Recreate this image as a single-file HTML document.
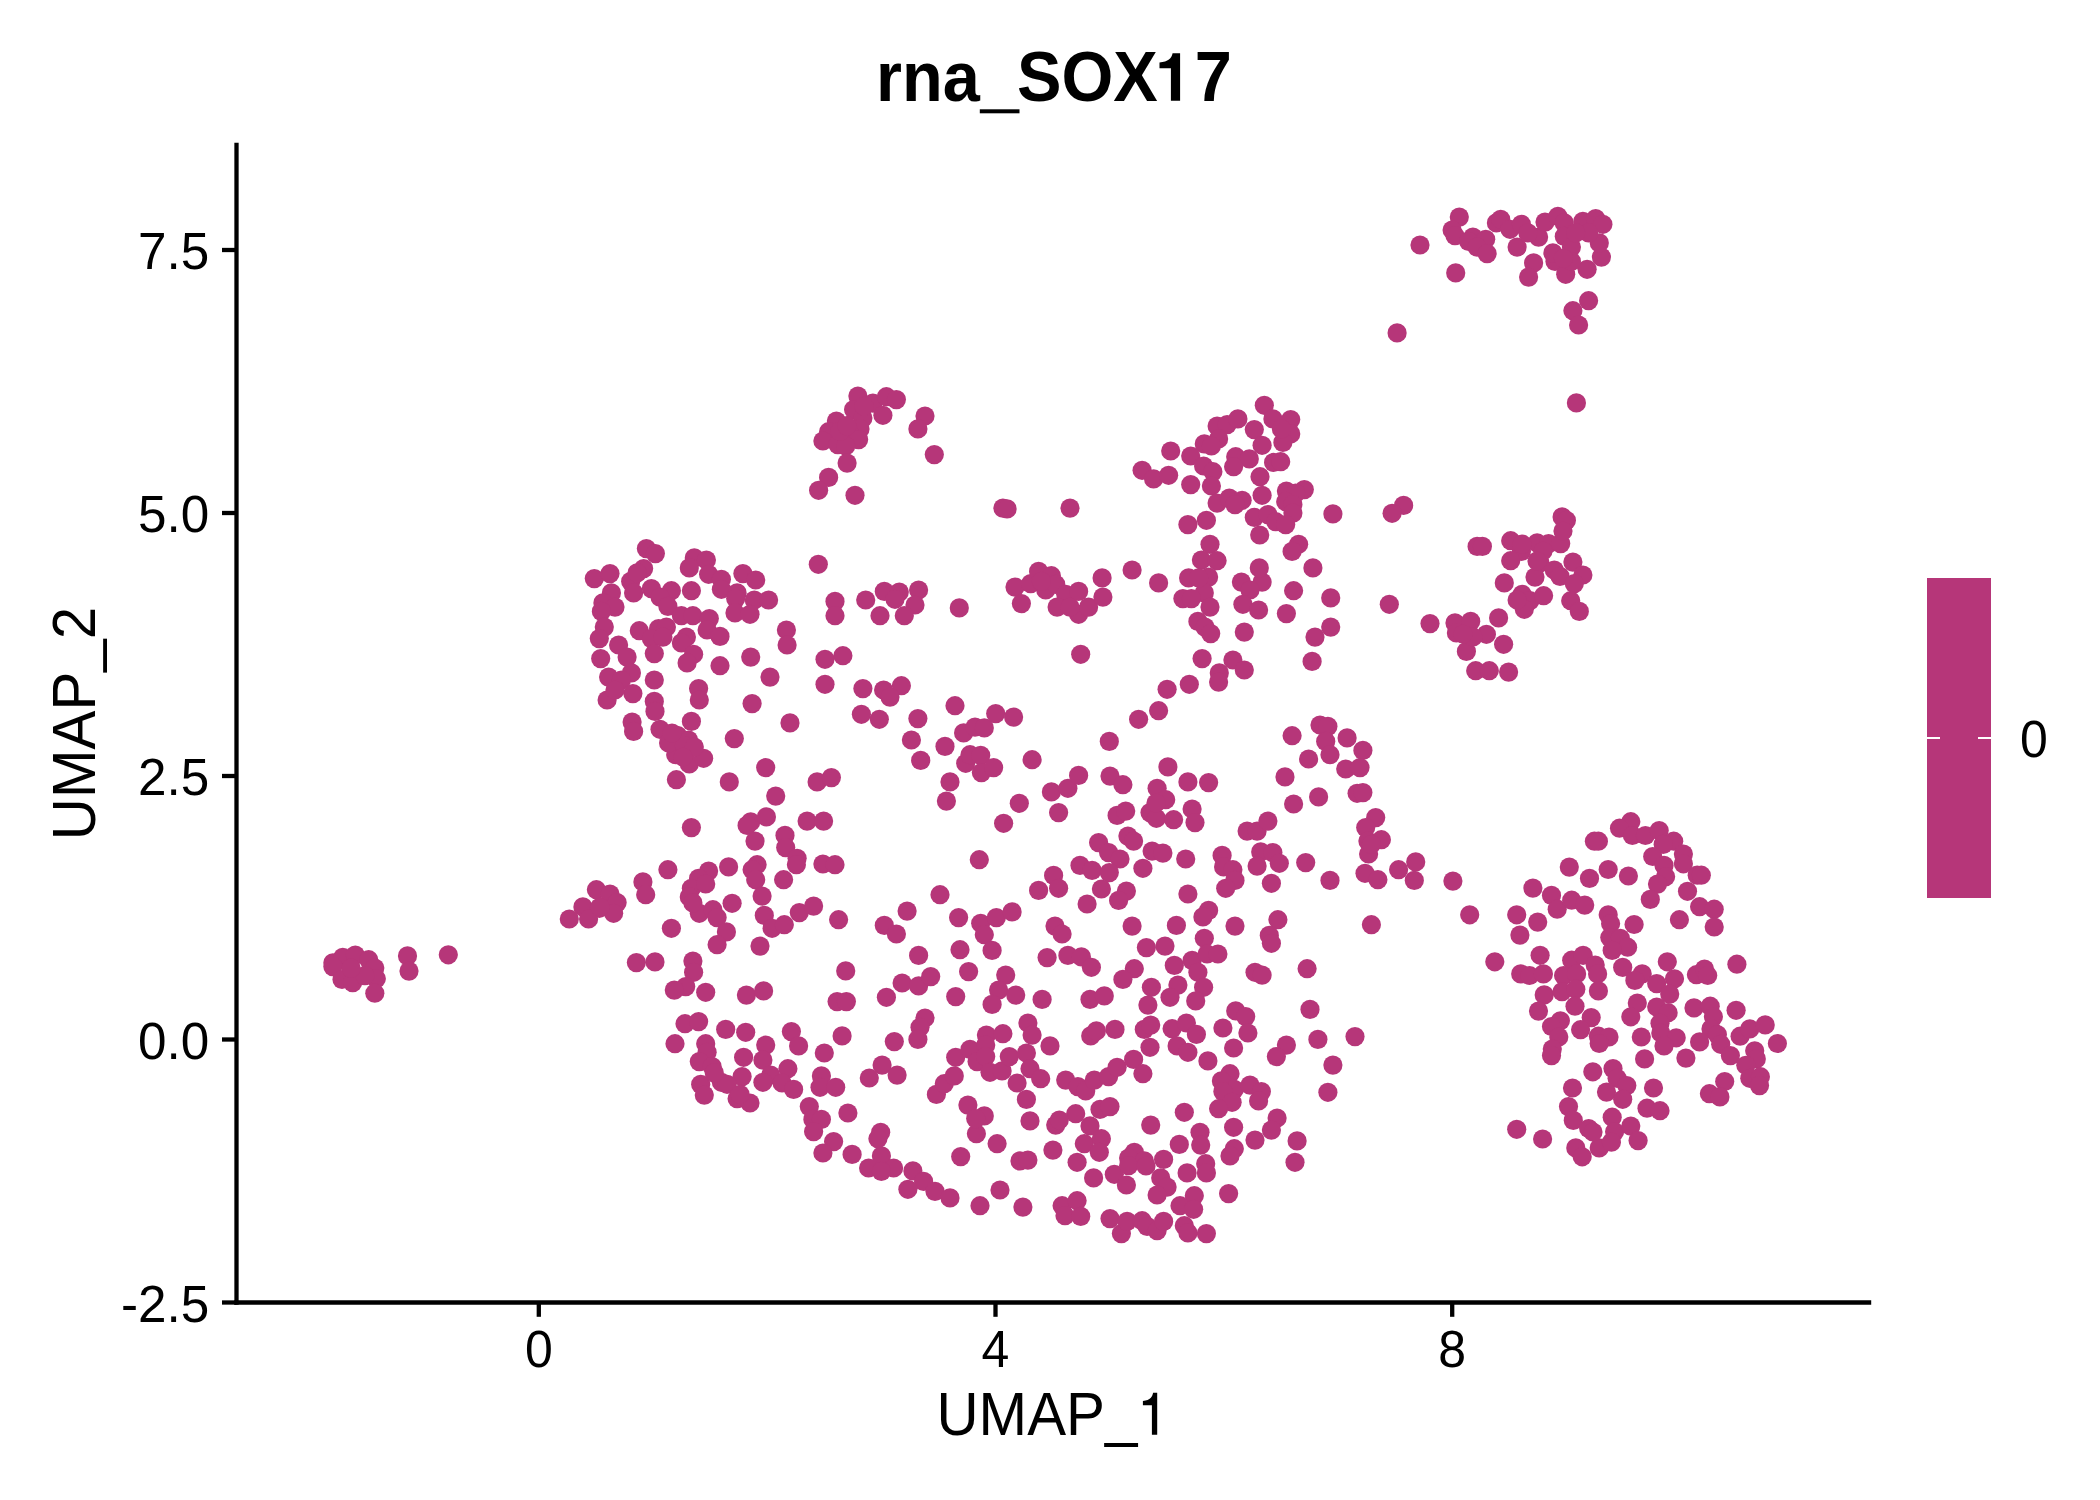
<!DOCTYPE html>
<html><head><meta charset="utf-8"><style>
html,body{margin:0;padding:0;background:#fff;width:2100px;height:1500px;overflow:hidden}
svg{display:block}
text{font-family:"Liberation Sans", sans-serif;fill:#000}
</style></head><body>
<svg width="2100" height="1500" viewBox="0 0 2100 1500">
<rect width="2100" height="1500" fill="#fff"/>
<text transform="translate(1054,101) scale(1,1.0436)" font-size="66.7" font-weight="bold" text-anchor="middle">rna_SOX17</text>
<rect x="976" y="103.5" width="48" height="8" fill="#fff"/><rect x="979.8" y="109.3" width="39.7" height="4" fill="#000"/>
<rect x="1158" y="49" width="38.5" height="54" fill="#fff"/><path d="M1170.9,100.8 L1180.1,100.8 L1180.1,53.3 L1172.6,53.3 C1171.6,58.3 1168.2,61.9 1159.5,62.4 L1159.5,68.3 L1170.9,68.3 Z" fill="#000"/>
<g fill="#B63679"><circle cx="646.4" cy="548.6" r="9.6"/><circle cx="655.4" cy="553.6" r="9.6"/><circle cx="694.3" cy="557.9" r="9.6"/><circle cx="706.4" cy="560" r="9.6"/><circle cx="818.3" cy="564.3" r="9.6"/><circle cx="643.6" cy="568.6" r="9.6"/><circle cx="630.7" cy="581.4" r="9.6"/><circle cx="633.6" cy="592.9" r="9.6"/><circle cx="594.3" cy="578.6" r="9.6"/><circle cx="610" cy="573.6" r="9.6"/><circle cx="689.3" cy="567.9" r="9.6"/><circle cx="708.6" cy="574.3" r="9.6"/><circle cx="721.4" cy="579.3" r="9.6"/><circle cx="742.9" cy="573.6" r="9.6"/><circle cx="755.7" cy="580" r="9.6"/><circle cx="611.4" cy="592.9" r="9.6"/><circle cx="651.4" cy="588.6" r="9.6"/><circle cx="671.4" cy="590.7" r="9.6"/><circle cx="691.4" cy="590.7" r="9.6"/><circle cx="721.4" cy="589.3" r="9.6"/><circle cx="737.1" cy="592.9" r="9.6"/><circle cx="754.3" cy="600" r="9.6"/><circle cx="768.6" cy="600" r="9.6"/><circle cx="835" cy="601.4" r="9.6"/><circle cx="660" cy="597.1" r="9.6"/><circle cx="735.7" cy="598.6" r="9.6"/><circle cx="602.9" cy="602.9" r="9.6"/><circle cx="615" cy="607.1" r="9.6"/><circle cx="601.4" cy="611.4" r="9.6"/><circle cx="667.9" cy="606.4" r="9.6"/><circle cx="681.4" cy="615.7" r="9.6"/><circle cx="692.9" cy="615.7" r="9.6"/><circle cx="709.3" cy="618.6" r="9.6"/><circle cx="735" cy="612.9" r="9.6"/><circle cx="750" cy="614.3" r="9.6"/><circle cx="835" cy="615.7" r="9.6"/><circle cx="604.3" cy="627.1" r="9.6"/><circle cx="639.3" cy="630.7" r="9.6"/><circle cx="658.6" cy="628.6" r="9.6"/><circle cx="666.4" cy="627.1" r="9.6"/><circle cx="651.4" cy="638.6" r="9.6"/><circle cx="662.9" cy="637.1" r="9.6"/><circle cx="686.4" cy="637.1" r="9.6"/><circle cx="681.4" cy="642.9" r="9.6"/><circle cx="707.1" cy="630" r="9.6"/><circle cx="720" cy="636.4" r="9.6"/><circle cx="786.4" cy="630" r="9.6"/><circle cx="787.1" cy="645" r="9.6"/><circle cx="599.3" cy="638.6" r="9.6"/><circle cx="618.6" cy="645" r="9.6"/><circle cx="600.7" cy="658.6" r="9.6"/><circle cx="627.1" cy="657.1" r="9.6"/><circle cx="654.3" cy="653.6" r="9.6"/><circle cx="693.6" cy="654.3" r="9.6"/><circle cx="687.1" cy="662.9" r="9.6"/><circle cx="720" cy="665.7" r="9.6"/><circle cx="750.7" cy="657.1" r="9.6"/><circle cx="825" cy="659.3" r="9.6"/><circle cx="842.9" cy="655.7" r="9.6"/><circle cx="608.6" cy="677.1" r="9.6"/><circle cx="631.4" cy="672.9" r="9.6"/><circle cx="621.4" cy="680" r="9.6"/><circle cx="654.3" cy="680" r="9.6"/><circle cx="698.6" cy="688.6" r="9.6"/><circle cx="770" cy="677.1" r="9.6"/><circle cx="825" cy="684.3" r="9.6"/><circle cx="607.1" cy="700" r="9.6"/><circle cx="632.9" cy="693.6" r="9.6"/><circle cx="654.3" cy="701.4" r="9.6"/><circle cx="699.3" cy="700" r="9.6"/><circle cx="752.1" cy="703.6" r="9.6"/><circle cx="655" cy="711.4" r="9.6"/><circle cx="632.1" cy="722.1" r="9.6"/><circle cx="633.6" cy="731.4" r="9.6"/><circle cx="660" cy="729.3" r="9.6"/><circle cx="691.4" cy="721.4" r="9.6"/><circle cx="790" cy="722.9" r="9.6"/><circle cx="734.3" cy="738.6" r="9.6"/><circle cx="677.9" cy="735.7" r="9.6"/><circle cx="688.6" cy="740" r="9.6"/><circle cx="615" cy="690" r="9.6"/><circle cx="865.7" cy="600" r="9.6"/><circle cx="884.3" cy="591.4" r="9.6"/><circle cx="899.3" cy="592.1" r="9.6"/><circle cx="895" cy="599.3" r="9.6"/><circle cx="918.6" cy="590" r="9.6"/><circle cx="915" cy="605" r="9.6"/><circle cx="904.3" cy="615.7" r="9.6"/><circle cx="880" cy="615.7" r="9.6"/><circle cx="959.3" cy="607.9" r="9.6"/><circle cx="1015" cy="587.1" r="9.6"/><circle cx="1021.4" cy="603.6" r="9.6"/><circle cx="1030.7" cy="583.6" r="9.6"/><circle cx="1038.6" cy="571.4" r="9.6"/><circle cx="1051.4" cy="575.7" r="9.6"/><circle cx="1045.7" cy="590" r="9.6"/><circle cx="1055.7" cy="584.3" r="9.6"/><circle cx="1065.7" cy="594.3" r="9.6"/><circle cx="1057.1" cy="607.1" r="9.6"/><circle cx="1078.6" cy="591.4" r="9.6"/><circle cx="1078.6" cy="614.3" r="9.6"/><circle cx="1088.6" cy="607.1" r="9.6"/><circle cx="1070" cy="607.1" r="9.6"/><circle cx="1102.1" cy="577.9" r="9.6"/><circle cx="1102.9" cy="597.1" r="9.6"/><circle cx="1132.1" cy="570" r="9.6"/><circle cx="1158.6" cy="582.9" r="9.6"/><circle cx="1080.7" cy="654.3" r="9.6"/><circle cx="862.9" cy="688.6" r="9.6"/><circle cx="883.6" cy="690" r="9.6"/><circle cx="901.4" cy="685.7" r="9.6"/><circle cx="890" cy="697.1" r="9.6"/><circle cx="861.4" cy="714.3" r="9.6"/><circle cx="879.3" cy="719.3" r="9.6"/><circle cx="917.9" cy="718.6" r="9.6"/><circle cx="955" cy="705.7" r="9.6"/><circle cx="911.4" cy="740" r="9.6"/><circle cx="945" cy="746.4" r="9.6"/><circle cx="963.6" cy="732.9" r="9.6"/><circle cx="975" cy="727.1" r="9.6"/><circle cx="984.3" cy="727.9" r="9.6"/><circle cx="995.7" cy="713.6" r="9.6"/><circle cx="1013.6" cy="717.1" r="9.6"/><circle cx="1138.6" cy="719.3" r="9.6"/><circle cx="1158.6" cy="710.7" r="9.6"/><circle cx="1109.3" cy="741.4" r="9.6"/><circle cx="1259.7" cy="535" r="9.6"/><circle cx="1210" cy="544.3" r="9.6"/><circle cx="1201.4" cy="560" r="9.6"/><circle cx="1217.1" cy="560.7" r="9.6"/><circle cx="1188.6" cy="577.9" r="9.6"/><circle cx="1208.6" cy="577.1" r="9.6"/><circle cx="1204.3" cy="592.9" r="9.6"/><circle cx="1182.9" cy="598.6" r="9.6"/><circle cx="1191.4" cy="598.6" r="9.6"/><circle cx="1210" cy="607.1" r="9.6"/><circle cx="1241.4" cy="582.1" r="9.6"/><circle cx="1262.1" cy="582.1" r="9.6"/><circle cx="1259.3" cy="567.9" r="9.6"/><circle cx="1250" cy="590" r="9.6"/><circle cx="1242.9" cy="604.3" r="9.6"/><circle cx="1258.6" cy="610" r="9.6"/><circle cx="1298.6" cy="544.3" r="9.6"/><circle cx="1292.1" cy="551.4" r="9.6"/><circle cx="1312.9" cy="567.9" r="9.6"/><circle cx="1293.6" cy="590.7" r="9.6"/><circle cx="1330.7" cy="597.9" r="9.6"/><circle cx="1286.4" cy="613.6" r="9.6"/><circle cx="1389.3" cy="604.3" r="9.6"/><circle cx="1197.9" cy="621.4" r="9.6"/><circle cx="1205" cy="627.1" r="9.6"/><circle cx="1210.7" cy="633.6" r="9.6"/><circle cx="1244.3" cy="632.1" r="9.6"/><circle cx="1330.7" cy="627.1" r="9.6"/><circle cx="1315" cy="637.1" r="9.6"/><circle cx="1312.1" cy="661.4" r="9.6"/><circle cx="1430" cy="623.6" r="9.6"/><circle cx="1455" cy="622.9" r="9.6"/><circle cx="1456.4" cy="632.9" r="9.6"/><circle cx="1202.1" cy="658.6" r="9.6"/><circle cx="1232.9" cy="660" r="9.6"/><circle cx="1244.3" cy="670" r="9.6"/><circle cx="1219.3" cy="672.9" r="9.6"/><circle cx="1218.6" cy="682.1" r="9.6"/><circle cx="1167.1" cy="689.3" r="9.6"/><circle cx="1189.3" cy="684.3" r="9.6"/><circle cx="1292.1" cy="735.7" r="9.6"/><circle cx="1320" cy="725" r="9.6"/><circle cx="1327.9" cy="726.4" r="9.6"/><circle cx="1325.7" cy="741.4" r="9.6"/><circle cx="1347.1" cy="737.9" r="9.6"/><circle cx="1477.1" cy="546.4" r="9.6"/><circle cx="1482.4" cy="546.4" r="9.6"/><circle cx="1510.7" cy="540.7" r="9.6"/><circle cx="1521.4" cy="551.4" r="9.6"/><circle cx="1537.1" cy="542.9" r="9.6"/><circle cx="1548.6" cy="543.6" r="9.6"/><circle cx="1560.7" cy="543.6" r="9.6"/><circle cx="1510.7" cy="560.7" r="9.6"/><circle cx="1540" cy="562.9" r="9.6"/><circle cx="1535" cy="577.1" r="9.6"/><circle cx="1554.3" cy="570" r="9.6"/><circle cx="1560" cy="576.4" r="9.6"/><circle cx="1572.9" cy="562.1" r="9.6"/><circle cx="1582.9" cy="575" r="9.6"/><circle cx="1574.3" cy="583.6" r="9.6"/><circle cx="1504.3" cy="582.9" r="9.6"/><circle cx="1522.1" cy="594.3" r="9.6"/><circle cx="1530" cy="600.7" r="9.6"/><circle cx="1543.6" cy="595.7" r="9.6"/><circle cx="1524.3" cy="609.3" r="9.6"/><circle cx="1517.1" cy="600" r="9.6"/><circle cx="1570.7" cy="600.7" r="9.6"/><circle cx="1579.3" cy="611.4" r="9.6"/><circle cx="1470.7" cy="621.4" r="9.6"/><circle cx="1486.4" cy="634.3" r="9.6"/><circle cx="1466.4" cy="651.4" r="9.6"/><circle cx="1498.6" cy="617.9" r="9.6"/><circle cx="1503.6" cy="644.3" r="9.6"/><circle cx="1475.7" cy="670.7" r="9.6"/><circle cx="1489.3" cy="670.7" r="9.6"/><circle cx="1508.6" cy="672.1" r="9.6"/><circle cx="1473" cy="637" r="9.6"/><circle cx="857.9" cy="396" r="9.6"/><circle cx="872.9" cy="403.1" r="9.6"/><circle cx="886.4" cy="396.7" r="9.6"/><circle cx="896.4" cy="399.6" r="9.6"/><circle cx="882.9" cy="415.3" r="9.6"/><circle cx="853.6" cy="409.6" r="9.6"/><circle cx="862.9" cy="418.1" r="9.6"/><circle cx="836.4" cy="421" r="9.6"/><circle cx="860" cy="428.9" r="9.6"/><circle cx="848.6" cy="430.3" r="9.6"/><circle cx="828.6" cy="431.7" r="9.6"/><circle cx="822.9" cy="441" r="9.6"/><circle cx="837.9" cy="444.6" r="9.6"/><circle cx="858.6" cy="439.6" r="9.6"/><circle cx="845.7" cy="446" r="9.6"/><circle cx="925" cy="416" r="9.6"/><circle cx="917.9" cy="428.9" r="9.6"/><circle cx="934.3" cy="454.6" r="9.6"/><circle cx="847.1" cy="463.1" r="9.6"/><circle cx="828.6" cy="477.4" r="9.6"/><circle cx="818.6" cy="490.3" r="9.6"/><circle cx="855" cy="495.3" r="9.6"/><circle cx="1002.9" cy="508.1" r="9.6"/><circle cx="1007.1" cy="508.9" r="9.6"/><circle cx="1070" cy="508.1" r="9.6"/><circle cx="1264.3" cy="405.3" r="9.6"/><circle cx="1272.9" cy="418.9" r="9.6"/><circle cx="1290.7" cy="419.6" r="9.6"/><circle cx="1254.3" cy="429.6" r="9.6"/><circle cx="1262.1" cy="445.3" r="9.6"/><circle cx="1290.7" cy="433.9" r="9.6"/><circle cx="1282.9" cy="442.4" r="9.6"/><circle cx="1281.4" cy="428.9" r="9.6"/><circle cx="1217.1" cy="426" r="9.6"/><circle cx="1227.1" cy="424.6" r="9.6"/><circle cx="1237.9" cy="418.9" r="9.6"/><circle cx="1218.6" cy="438.9" r="9.6"/><circle cx="1204.3" cy="443.9" r="9.6"/><circle cx="1211.4" cy="446" r="9.6"/><circle cx="1170.7" cy="451" r="9.6"/><circle cx="1190.7" cy="456" r="9.6"/><circle cx="1203.6" cy="466" r="9.6"/><circle cx="1212.9" cy="471.7" r="9.6"/><circle cx="1211.4" cy="486" r="9.6"/><circle cx="1190.7" cy="484.6" r="9.6"/><circle cx="1235.7" cy="456.7" r="9.6"/><circle cx="1249.3" cy="458.9" r="9.6"/><circle cx="1233.6" cy="466.7" r="9.6"/><circle cx="1273.6" cy="462.4" r="9.6"/><circle cx="1280.7" cy="461.7" r="9.6"/><circle cx="1260" cy="476.7" r="9.6"/><circle cx="1262.1" cy="495.3" r="9.6"/><circle cx="1142.1" cy="470.3" r="9.6"/><circle cx="1153.6" cy="478.9" r="9.6"/><circle cx="1168.6" cy="475.3" r="9.6"/><circle cx="1217.1" cy="503.1" r="9.6"/><circle cx="1229.3" cy="498.1" r="9.6"/><circle cx="1242.1" cy="500.3" r="9.6"/><circle cx="1235" cy="504.6" r="9.6"/><circle cx="1286.4" cy="491" r="9.6"/><circle cx="1304.3" cy="489.6" r="9.6"/><circle cx="1295.7" cy="493.1" r="9.6"/><circle cx="1285.7" cy="501.7" r="9.6"/><circle cx="1292.9" cy="504.6" r="9.6"/><circle cx="1292.9" cy="513.1" r="9.6"/><circle cx="1254.3" cy="517.4" r="9.6"/><circle cx="1267.9" cy="514.6" r="9.6"/><circle cx="1275.7" cy="521.7" r="9.6"/><circle cx="1285.7" cy="524.6" r="9.6"/><circle cx="1187.9" cy="524.6" r="9.6"/><circle cx="1206.4" cy="520.3" r="9.6"/><circle cx="1332.9" cy="513.9" r="9.6"/><circle cx="1420" cy="245" r="9.6"/><circle cx="1397.1" cy="332.9" r="9.6"/><circle cx="1455.7" cy="272.9" r="9.6"/><circle cx="1459.3" cy="217.1" r="9.6"/><circle cx="1452.1" cy="230" r="9.6"/><circle cx="1455" cy="235.7" r="9.6"/><circle cx="1472.9" cy="237.1" r="9.6"/><circle cx="1485.7" cy="239.3" r="9.6"/><circle cx="1468.6" cy="241.4" r="9.6"/><circle cx="1477.1" cy="247.1" r="9.6"/><circle cx="1487.1" cy="253.6" r="9.6"/><circle cx="1496.4" cy="222.9" r="9.6"/><circle cx="1500.7" cy="219.3" r="9.6"/><circle cx="1510" cy="229.3" r="9.6"/><circle cx="1521.4" cy="224.3" r="9.6"/><circle cx="1517.1" cy="247.1" r="9.6"/><circle cx="1538.6" cy="237.1" r="9.6"/><circle cx="1527.9" cy="232.9" r="9.6"/><circle cx="1533.6" cy="262.9" r="9.6"/><circle cx="1528.6" cy="277.1" r="9.6"/><circle cx="1545" cy="222.1" r="9.6"/><circle cx="1557.9" cy="216.4" r="9.6"/><circle cx="1564.3" cy="222.9" r="9.6"/><circle cx="1582.9" cy="221.4" r="9.6"/><circle cx="1595.7" cy="218.6" r="9.6"/><circle cx="1602.9" cy="224.3" r="9.6"/><circle cx="1564.3" cy="236.4" r="9.6"/><circle cx="1571.4" cy="247.1" r="9.6"/><circle cx="1555" cy="261.4" r="9.6"/><circle cx="1565.7" cy="274.3" r="9.6"/><circle cx="1587.1" cy="269.3" r="9.6"/><circle cx="1601.4" cy="257.1" r="9.6"/><circle cx="1599.3" cy="242.9" r="9.6"/><circle cx="1588.6" cy="232.9" r="9.6"/><circle cx="1575.7" cy="232.9" r="9.6"/><circle cx="1552.9" cy="252.9" r="9.6"/><circle cx="1571.4" cy="261.4" r="9.6"/><circle cx="1588.6" cy="300.7" r="9.6"/><circle cx="1572.9" cy="310.7" r="9.6"/><circle cx="1578.6" cy="325" r="9.6"/><circle cx="1576.4" cy="402.9" r="9.6"/><circle cx="1403.6" cy="505.4" r="9.6"/><circle cx="1392.1" cy="513.3" r="9.6"/><circle cx="1562.1" cy="516.9" r="9.6"/><circle cx="1566.4" cy="520.4" r="9.6"/><circle cx="1563" cy="531" r="9.6"/><circle cx="675.7" cy="754.7" r="9.6"/><circle cx="689.3" cy="764" r="9.6"/><circle cx="703.6" cy="758.3" r="9.6"/><circle cx="676.4" cy="779.7" r="9.6"/><circle cx="729.3" cy="781.9" r="9.6"/><circle cx="765.7" cy="767.6" r="9.6"/><circle cx="775.7" cy="796.1" r="9.6"/><circle cx="817.1" cy="781.9" r="9.6"/><circle cx="831.4" cy="777.6" r="9.6"/><circle cx="691.4" cy="827.6" r="9.6"/><circle cx="750.7" cy="821.9" r="9.6"/><circle cx="766.4" cy="816.9" r="9.6"/><circle cx="747.1" cy="825.4" r="9.6"/><circle cx="755" cy="841.1" r="9.6"/><circle cx="785" cy="835.4" r="9.6"/><circle cx="785.7" cy="847.6" r="9.6"/><circle cx="797.1" cy="858.3" r="9.6"/><circle cx="796.4" cy="864.7" r="9.6"/><circle cx="807.1" cy="821.1" r="9.6"/><circle cx="823.6" cy="821.1" r="9.6"/><circle cx="667.9" cy="869.7" r="9.6"/><circle cx="708.6" cy="871.1" r="9.6"/><circle cx="698.6" cy="878.3" r="9.6"/><circle cx="691.4" cy="888.3" r="9.6"/><circle cx="705.7" cy="884" r="9.6"/><circle cx="689.3" cy="896.9" r="9.6"/><circle cx="699.3" cy="913.3" r="9.6"/><circle cx="712.9" cy="909.7" r="9.6"/><circle cx="717.1" cy="917.6" r="9.6"/><circle cx="726.4" cy="931.9" r="9.6"/><circle cx="717.1" cy="944.7" r="9.6"/><circle cx="728.6" cy="866.9" r="9.6"/><circle cx="732.1" cy="903.3" r="9.6"/><circle cx="757.1" cy="864.7" r="9.6"/><circle cx="752.1" cy="869.7" r="9.6"/><circle cx="755.7" cy="879.7" r="9.6"/><circle cx="762.1" cy="896.1" r="9.6"/><circle cx="783.6" cy="879.7" r="9.6"/><circle cx="822.9" cy="864" r="9.6"/><circle cx="835" cy="864.7" r="9.6"/><circle cx="764.3" cy="915.4" r="9.6"/><circle cx="772.1" cy="928.3" r="9.6"/><circle cx="784.3" cy="924.7" r="9.6"/><circle cx="799.3" cy="912.6" r="9.6"/><circle cx="813.6" cy="906.1" r="9.6"/><circle cx="838.6" cy="919.7" r="9.6"/><circle cx="760" cy="946.1" r="9.6"/><circle cx="596.4" cy="889.7" r="9.6"/><circle cx="610" cy="894" r="9.6"/><circle cx="617.1" cy="902.6" r="9.6"/><circle cx="582.9" cy="906.9" r="9.6"/><circle cx="599.3" cy="908.3" r="9.6"/><circle cx="588.6" cy="919" r="9.6"/><circle cx="613.6" cy="913.3" r="9.6"/><circle cx="569.3" cy="919" r="9.6"/><circle cx="642.9" cy="881.9" r="9.6"/><circle cx="645.7" cy="894.7" r="9.6"/><circle cx="671.4" cy="928.3" r="9.6"/><circle cx="636.4" cy="962.6" r="9.6"/><circle cx="655" cy="961.9" r="9.6"/><circle cx="692.9" cy="961.1" r="9.6"/><circle cx="920.7" cy="760.4" r="9.6"/><circle cx="965.7" cy="763.3" r="9.6"/><circle cx="970" cy="754.7" r="9.6"/><circle cx="980.7" cy="755.4" r="9.6"/><circle cx="981.4" cy="772.6" r="9.6"/><circle cx="993.6" cy="767.6" r="9.6"/><circle cx="950" cy="781.9" r="9.6"/><circle cx="946.4" cy="801.1" r="9.6"/><circle cx="1032.1" cy="759.7" r="9.6"/><circle cx="1019.3" cy="803.3" r="9.6"/><circle cx="1003.6" cy="823.3" r="9.6"/><circle cx="1051.4" cy="791.9" r="9.6"/><circle cx="1067.9" cy="788.3" r="9.6"/><circle cx="1078.6" cy="775.4" r="9.6"/><circle cx="1058.6" cy="812.6" r="9.6"/><circle cx="1110" cy="776.1" r="9.6"/><circle cx="1122.9" cy="784.7" r="9.6"/><circle cx="1157.1" cy="788.3" r="9.6"/><circle cx="1150" cy="812.6" r="9.6"/><circle cx="1156.4" cy="818.3" r="9.6"/><circle cx="1117.1" cy="815.4" r="9.6"/><circle cx="1125.7" cy="811.1" r="9.6"/><circle cx="1098.6" cy="842.6" r="9.6"/><circle cx="1108.6" cy="852.6" r="9.6"/><circle cx="1120" cy="859" r="9.6"/><circle cx="1127.9" cy="836.1" r="9.6"/><circle cx="1133.6" cy="841.1" r="9.6"/><circle cx="1152.1" cy="851.1" r="9.6"/><circle cx="1142.9" cy="868.3" r="9.6"/><circle cx="1080" cy="865.4" r="9.6"/><circle cx="1092.1" cy="870.4" r="9.6"/><circle cx="1109.3" cy="872.6" r="9.6"/><circle cx="1053.6" cy="875.4" r="9.6"/><circle cx="1058.6" cy="888.3" r="9.6"/><circle cx="1038.6" cy="890.4" r="9.6"/><circle cx="1101.4" cy="889" r="9.6"/><circle cx="1087.1" cy="904" r="9.6"/><circle cx="1126.4" cy="891.1" r="9.6"/><circle cx="1118.6" cy="900.4" r="9.6"/><circle cx="979.3" cy="859.7" r="9.6"/><circle cx="940" cy="894.7" r="9.6"/><circle cx="907.1" cy="911.1" r="9.6"/><circle cx="884.3" cy="925.4" r="9.6"/><circle cx="896.4" cy="934" r="9.6"/><circle cx="958.6" cy="917.6" r="9.6"/><circle cx="980.7" cy="923.3" r="9.6"/><circle cx="984.3" cy="934.7" r="9.6"/><circle cx="996.4" cy="917.6" r="9.6"/><circle cx="1012.1" cy="911.9" r="9.6"/><circle cx="1055" cy="926.1" r="9.6"/><circle cx="1062.1" cy="934" r="9.6"/><circle cx="1132.1" cy="926.1" r="9.6"/><circle cx="1146.4" cy="947.6" r="9.6"/><circle cx="918.6" cy="955.4" r="9.6"/><circle cx="960" cy="949.7" r="9.6"/><circle cx="992.1" cy="950.4" r="9.6"/><circle cx="1047.1" cy="957.6" r="9.6"/><circle cx="1067.9" cy="955.4" r="9.6"/><circle cx="1081.4" cy="956.9" r="9.6"/><circle cx="1167.9" cy="766.9" r="9.6"/><circle cx="1165.7" cy="799.7" r="9.6"/><circle cx="1173.6" cy="819.7" r="9.6"/><circle cx="1187.9" cy="781.9" r="9.6"/><circle cx="1208.6" cy="782.6" r="9.6"/><circle cx="1192.1" cy="809" r="9.6"/><circle cx="1195" cy="822.6" r="9.6"/><circle cx="1285" cy="776.9" r="9.6"/><circle cx="1308.6" cy="759" r="9.6"/><circle cx="1330" cy="754.7" r="9.6"/><circle cx="1362.9" cy="750.4" r="9.6"/><circle cx="1345.7" cy="769" r="9.6"/><circle cx="1360" cy="767.6" r="9.6"/><circle cx="1357.1" cy="793.3" r="9.6"/><circle cx="1362.9" cy="792.6" r="9.6"/><circle cx="1293.6" cy="804" r="9.6"/><circle cx="1318.6" cy="796.9" r="9.6"/><circle cx="1247.1" cy="831.1" r="9.6"/><circle cx="1257.1" cy="831.1" r="9.6"/><circle cx="1267.9" cy="821.1" r="9.6"/><circle cx="1375.7" cy="817.6" r="9.6"/><circle cx="1365.7" cy="827.6" r="9.6"/><circle cx="1367.9" cy="841.1" r="9.6"/><circle cx="1381.4" cy="839.7" r="9.6"/><circle cx="1368.6" cy="854" r="9.6"/><circle cx="1365" cy="873.3" r="9.6"/><circle cx="1377.9" cy="879.7" r="9.6"/><circle cx="1398.6" cy="869.7" r="9.6"/><circle cx="1415.7" cy="861.9" r="9.6"/><circle cx="1414.3" cy="880.4" r="9.6"/><circle cx="1452.9" cy="881.1" r="9.6"/><circle cx="1185.7" cy="859" r="9.6"/><circle cx="1222.1" cy="855.4" r="9.6"/><circle cx="1223.6" cy="866.9" r="9.6"/><circle cx="1232.9" cy="869.7" r="9.6"/><circle cx="1235" cy="880.4" r="9.6"/><circle cx="1225.7" cy="888.3" r="9.6"/><circle cx="1260.7" cy="851.9" r="9.6"/><circle cx="1272.9" cy="852.6" r="9.6"/><circle cx="1279.3" cy="863.3" r="9.6"/><circle cx="1257.1" cy="866.1" r="9.6"/><circle cx="1271.4" cy="883.3" r="9.6"/><circle cx="1305.7" cy="862.6" r="9.6"/><circle cx="1330" cy="880.4" r="9.6"/><circle cx="1187.9" cy="894" r="9.6"/><circle cx="1208.6" cy="910.4" r="9.6"/><circle cx="1202.9" cy="916.9" r="9.6"/><circle cx="1176.4" cy="925.4" r="9.6"/><circle cx="1235" cy="926.1" r="9.6"/><circle cx="1277.9" cy="919.7" r="9.6"/><circle cx="1269.3" cy="935.4" r="9.6"/><circle cx="1271.4" cy="943.3" r="9.6"/><circle cx="1371.4" cy="924.7" r="9.6"/><circle cx="1204.3" cy="938.3" r="9.6"/><circle cx="1165" cy="946.1" r="9.6"/><circle cx="1174.3" cy="965.4" r="9.6"/><circle cx="1192.1" cy="960.4" r="9.6"/><circle cx="1207.1" cy="954" r="9.6"/><circle cx="1217.9" cy="954" r="9.6"/><circle cx="1469.7" cy="914.8" r="9.6"/><circle cx="1594.4" cy="841.2" r="9.6"/><circle cx="1598.4" cy="841.2" r="9.6"/><circle cx="1630.8" cy="821.7" r="9.6"/><circle cx="1619.5" cy="828.2" r="9.6"/><circle cx="1632.4" cy="835.5" r="9.6"/><circle cx="1645.4" cy="835.5" r="9.6"/><circle cx="1659.2" cy="830.6" r="9.6"/><circle cx="1673.7" cy="841.2" r="9.6"/><circle cx="1663.2" cy="844.4" r="9.6"/><circle cx="1683.4" cy="854.1" r="9.6"/><circle cx="1652.7" cy="856.5" r="9.6"/><circle cx="1664" cy="865.4" r="9.6"/><circle cx="1683.4" cy="863.8" r="9.6"/><circle cx="1665.6" cy="876.8" r="9.6"/><circle cx="1657.5" cy="884.1" r="9.6"/><circle cx="1650.3" cy="899.4" r="9.6"/><circle cx="1697.2" cy="875.2" r="9.6"/><circle cx="1701.3" cy="875.2" r="9.6"/><circle cx="1687.5" cy="891.3" r="9.6"/><circle cx="1699.6" cy="906.7" r="9.6"/><circle cx="1714.2" cy="909.2" r="9.6"/><circle cx="1714.2" cy="927" r="9.6"/><circle cx="1679.4" cy="919.7" r="9.6"/><circle cx="1569.3" cy="867.1" r="9.6"/><circle cx="1589.5" cy="878.4" r="9.6"/><circle cx="1608.2" cy="869.5" r="9.6"/><circle cx="1628.4" cy="876" r="9.6"/><circle cx="1532.9" cy="888.1" r="9.6"/><circle cx="1551.5" cy="895.4" r="9.6"/><circle cx="1557.2" cy="909.2" r="9.6"/><circle cx="1571.7" cy="900.2" r="9.6"/><circle cx="1584.7" cy="905.1" r="9.6"/><circle cx="1516.7" cy="914.8" r="9.6"/><circle cx="1537.7" cy="922.1" r="9.6"/><circle cx="1519.9" cy="935.1" r="9.6"/><circle cx="1608.2" cy="914.8" r="9.6"/><circle cx="1610.6" cy="923.7" r="9.6"/><circle cx="1609.8" cy="937.5" r="9.6"/><circle cx="1620.3" cy="938.3" r="9.6"/><circle cx="1627.6" cy="947.2" r="9.6"/><circle cx="1612.2" cy="950.4" r="9.6"/><circle cx="1634.1" cy="924.5" r="9.6"/><circle cx="1494.8" cy="961.8" r="9.6"/><circle cx="1540.1" cy="955.3" r="9.6"/><circle cx="1520.7" cy="973.9" r="9.6"/><circle cx="1529.6" cy="975.5" r="9.6"/><circle cx="1543.4" cy="973.9" r="9.6"/><circle cx="1571.7" cy="960.2" r="9.6"/><circle cx="1583.1" cy="955.3" r="9.6"/><circle cx="1595.2" cy="965" r="9.6"/><circle cx="1563.6" cy="975.5" r="9.6"/><circle cx="1576.6" cy="973.9" r="9.6"/><circle cx="1597.6" cy="973.9" r="9.6"/><circle cx="1622.7" cy="967.4" r="9.6"/><circle cx="1642.2" cy="973.9" r="9.6"/><circle cx="1634.9" cy="980.4" r="9.6"/><circle cx="1667.3" cy="961.8" r="9.6"/><circle cx="1674.5" cy="978.8" r="9.6"/><circle cx="1656.7" cy="983.6" r="9.6"/><circle cx="1696.4" cy="974.7" r="9.6"/><circle cx="1704.5" cy="969.1" r="9.6"/><circle cx="1707.7" cy="975.5" r="9.6"/><circle cx="1736.9" cy="964.2" r="9.6"/><circle cx="1544.2" cy="994.9" r="9.6"/><circle cx="1562" cy="991.7" r="9.6"/><circle cx="1575.8" cy="989.2" r="9.6"/><circle cx="1598.4" cy="990.9" r="9.6"/><circle cx="1669.7" cy="994.1" r="9.6"/><circle cx="1538.5" cy="1011.1" r="9.6"/><circle cx="1575" cy="1006.2" r="9.6"/><circle cx="1591.2" cy="1017.6" r="9.6"/><circle cx="1560.4" cy="1020.8" r="9.6"/><circle cx="1551.5" cy="1026.5" r="9.6"/><circle cx="1558.8" cy="1037" r="9.6"/><circle cx="1580.6" cy="1029.7" r="9.6"/><circle cx="1552.3" cy="1049.1" r="9.6"/><circle cx="1551.5" cy="1055.6" r="9.6"/><circle cx="1598.4" cy="1036.2" r="9.6"/><circle cx="1609" cy="1037" r="9.6"/><circle cx="1599.2" cy="1043.5" r="9.6"/><circle cx="1637.3" cy="1003" r="9.6"/><circle cx="1630.8" cy="1016.8" r="9.6"/><circle cx="1656.7" cy="1007" r="9.6"/><circle cx="1668.1" cy="1012.7" r="9.6"/><circle cx="1660" cy="1023.2" r="9.6"/><circle cx="1660.8" cy="1033" r="9.6"/><circle cx="1676.2" cy="1037.8" r="9.6"/><circle cx="1664" cy="1045.9" r="9.6"/><circle cx="1641.3" cy="1037" r="9.6"/><circle cx="1644.6" cy="1058.9" r="9.6"/><circle cx="1685.9" cy="1058.1" r="9.6"/><circle cx="1694" cy="1007.9" r="9.6"/><circle cx="1710.2" cy="1006.2" r="9.6"/><circle cx="1713.4" cy="1016.8" r="9.6"/><circle cx="1711" cy="1028.9" r="9.6"/><circle cx="1717.4" cy="1034.6" r="9.6"/><circle cx="1699.6" cy="1041.9" r="9.6"/><circle cx="1720.7" cy="1044.3" r="9.6"/><circle cx="1730.4" cy="1055.6" r="9.6"/><circle cx="1736.1" cy="1010.3" r="9.6"/><circle cx="1740.1" cy="1036.2" r="9.6"/><circle cx="1749.8" cy="1028.9" r="9.6"/><circle cx="1765.2" cy="1024.9" r="9.6"/><circle cx="1777.4" cy="1043.5" r="9.6"/><circle cx="1754.7" cy="1050.8" r="9.6"/><circle cx="1756.3" cy="1058.9" r="9.6"/><circle cx="1745.8" cy="1065.3" r="9.6"/><circle cx="1749.8" cy="1078.3" r="9.6"/><circle cx="1760.4" cy="1076.7" r="9.6"/><circle cx="1759.5" cy="1085.6" r="9.6"/><circle cx="1724.7" cy="1081.5" r="9.6"/><circle cx="1709.4" cy="1093.7" r="9.6"/><circle cx="1719.9" cy="1096.9" r="9.6"/><circle cx="1592.8" cy="1071.8" r="9.6"/><circle cx="1613" cy="1068.6" r="9.6"/><circle cx="1617.1" cy="1078.3" r="9.6"/><circle cx="1626.8" cy="1085.6" r="9.6"/><circle cx="1606.5" cy="1092.1" r="9.6"/><circle cx="1622.7" cy="1099.3" r="9.6"/><circle cx="1572.5" cy="1088" r="9.6"/><circle cx="1653.5" cy="1088" r="9.6"/><circle cx="1647" cy="1108.2" r="9.6"/><circle cx="1660" cy="1110.7" r="9.6"/><circle cx="1568.5" cy="1106.6" r="9.6"/><circle cx="1573.3" cy="1120.4" r="9.6"/><circle cx="1588.7" cy="1128.5" r="9.6"/><circle cx="1612.2" cy="1117.2" r="9.6"/><circle cx="1614.6" cy="1131.7" r="9.6"/><circle cx="1630.8" cy="1126.1" r="9.6"/><circle cx="1638.1" cy="1140.6" r="9.6"/><circle cx="1599.2" cy="1147.9" r="9.6"/><circle cx="1611.4" cy="1142.2" r="9.6"/><circle cx="1575.8" cy="1147.9" r="9.6"/><circle cx="1582.2" cy="1156.8" r="9.6"/><circle cx="1516.7" cy="1129.3" r="9.6"/><circle cx="1542.6" cy="1139" r="9.6"/><circle cx="332.9" cy="962.8" r="9.6"/><circle cx="342.8" cy="957.4" r="9.6"/><circle cx="355.3" cy="955.1" r="9.6"/><circle cx="368.7" cy="959.7" r="9.6"/><circle cx="332.9" cy="966.6" r="9.6"/><circle cx="342" cy="979.5" r="9.6"/><circle cx="352.7" cy="982.6" r="9.6"/><circle cx="374.8" cy="968.1" r="9.6"/><circle cx="376.3" cy="978.8" r="9.6"/><circle cx="374.8" cy="993.2" r="9.6"/><circle cx="364.9" cy="975.7" r="9.6"/><circle cx="407.5" cy="955.9" r="9.6"/><circle cx="409" cy="971.1" r="9.6"/><circle cx="448.3" cy="954.8" r="9.6"/><circle cx="693.6" cy="972.3" r="9.6"/><circle cx="685.7" cy="986.6" r="9.6"/><circle cx="674.3" cy="990.1" r="9.6"/><circle cx="705.7" cy="992.3" r="9.6"/><circle cx="746.4" cy="995.1" r="9.6"/><circle cx="763.6" cy="990.9" r="9.6"/><circle cx="845.7" cy="970.9" r="9.6"/><circle cx="837.1" cy="1001.6" r="9.6"/><circle cx="846.4" cy="1001.6" r="9.6"/><circle cx="685" cy="1023.7" r="9.6"/><circle cx="698.6" cy="1021.6" r="9.6"/><circle cx="725.7" cy="1029.4" r="9.6"/><circle cx="745.7" cy="1032.3" r="9.6"/><circle cx="675" cy="1043.7" r="9.6"/><circle cx="705.7" cy="1043.7" r="9.6"/><circle cx="707.1" cy="1052.3" r="9.6"/><circle cx="699.3" cy="1061.6" r="9.6"/><circle cx="712.1" cy="1066.6" r="9.6"/><circle cx="742.1" cy="1076.6" r="9.6"/><circle cx="721.4" cy="1082.3" r="9.6"/><circle cx="700.7" cy="1084.4" r="9.6"/><circle cx="704.3" cy="1095.1" r="9.6"/><circle cx="737.1" cy="1098.7" r="9.6"/><circle cx="750" cy="1103" r="9.6"/><circle cx="743.6" cy="1057.3" r="9.6"/><circle cx="765.7" cy="1045.1" r="9.6"/><circle cx="762.9" cy="1060.1" r="9.6"/><circle cx="770.7" cy="1075.1" r="9.6"/><circle cx="762.9" cy="1082.3" r="9.6"/><circle cx="787.9" cy="1068.7" r="9.6"/><circle cx="782.1" cy="1083" r="9.6"/><circle cx="793.6" cy="1089.4" r="9.6"/><circle cx="791.4" cy="1031.6" r="9.6"/><circle cx="798.6" cy="1045.9" r="9.6"/><circle cx="824.3" cy="1053" r="9.6"/><circle cx="842.1" cy="1035.9" r="9.6"/><circle cx="821.4" cy="1075.9" r="9.6"/><circle cx="820" cy="1087.3" r="9.6"/><circle cx="835.7" cy="1087.3" r="9.6"/><circle cx="809.3" cy="1106.6" r="9.6"/><circle cx="812.9" cy="1119.4" r="9.6"/><circle cx="821.4" cy="1119.4" r="9.6"/><circle cx="813.6" cy="1131.6" r="9.6"/><circle cx="847.9" cy="1113" r="9.6"/><circle cx="833.6" cy="1141.6" r="9.6"/><circle cx="822.9" cy="1153" r="9.6"/><circle cx="852.1" cy="1154.4" r="9.6"/><circle cx="1091.4" cy="967.3" r="9.6"/><circle cx="1134.3" cy="968.7" r="9.6"/><circle cx="1122.9" cy="979.4" r="9.6"/><circle cx="1151.4" cy="987.3" r="9.6"/><circle cx="1147.9" cy="1005.1" r="9.6"/><circle cx="968.6" cy="971.6" r="9.6"/><circle cx="1005.7" cy="975.1" r="9.6"/><circle cx="998.6" cy="990.1" r="9.6"/><circle cx="992.1" cy="1004.4" r="9.6"/><circle cx="1015.7" cy="995.1" r="9.6"/><circle cx="1042.1" cy="999.4" r="9.6"/><circle cx="955.7" cy="996.6" r="9.6"/><circle cx="902.1" cy="983" r="9.6"/><circle cx="918.6" cy="985.9" r="9.6"/><circle cx="930.7" cy="976.6" r="9.6"/><circle cx="886.4" cy="997.3" r="9.6"/><circle cx="1090" cy="999.4" r="9.6"/><circle cx="1104.3" cy="995.9" r="9.6"/><circle cx="925" cy="1018" r="9.6"/><circle cx="920" cy="1027.3" r="9.6"/><circle cx="917.9" cy="1039.4" r="9.6"/><circle cx="894.3" cy="1041.6" r="9.6"/><circle cx="1027.9" cy="1023" r="9.6"/><circle cx="1032.1" cy="1035.1" r="9.6"/><circle cx="1050" cy="1045.9" r="9.6"/><circle cx="986.4" cy="1035.1" r="9.6"/><circle cx="1002.9" cy="1033.7" r="9.6"/><circle cx="1090.7" cy="1035.9" r="9.6"/><circle cx="1096.4" cy="1030.9" r="9.6"/><circle cx="1115" cy="1029.4" r="9.6"/><circle cx="1144.3" cy="1029.4" r="9.6"/><circle cx="1150.7" cy="1025.1" r="9.6"/><circle cx="1150" cy="1047.3" r="9.6"/><circle cx="955.7" cy="1057.3" r="9.6"/><circle cx="970" cy="1049.4" r="9.6"/><circle cx="985.7" cy="1045.1" r="9.6"/><circle cx="977.1" cy="1061.6" r="9.6"/><circle cx="985.7" cy="1056.6" r="9.6"/><circle cx="990" cy="1072.3" r="9.6"/><circle cx="1002.1" cy="1070.9" r="9.6"/><circle cx="1009.3" cy="1056.6" r="9.6"/><circle cx="1026.4" cy="1053" r="9.6"/><circle cx="1030" cy="1068.7" r="9.6"/><circle cx="1040.7" cy="1078.7" r="9.6"/><circle cx="1017.1" cy="1083" r="9.6"/><circle cx="1026.4" cy="1099.4" r="9.6"/><circle cx="882.1" cy="1065.1" r="9.6"/><circle cx="869.3" cy="1078" r="9.6"/><circle cx="897.1" cy="1075.1" r="9.6"/><circle cx="936.4" cy="1094.4" r="9.6"/><circle cx="944.3" cy="1083.7" r="9.6"/><circle cx="954.3" cy="1075.9" r="9.6"/><circle cx="1065.7" cy="1080.1" r="9.6"/><circle cx="1077.9" cy="1086.6" r="9.6"/><circle cx="1085.7" cy="1090.9" r="9.6"/><circle cx="1094.3" cy="1080.1" r="9.6"/><circle cx="1108.6" cy="1076.6" r="9.6"/><circle cx="1117.1" cy="1067.3" r="9.6"/><circle cx="1133.6" cy="1059.4" r="9.6"/><circle cx="1142.9" cy="1073.7" r="9.6"/><circle cx="967.9" cy="1105.1" r="9.6"/><circle cx="984.3" cy="1115.9" r="9.6"/><circle cx="976.4" cy="1133.7" r="9.6"/><circle cx="997.1" cy="1143.7" r="9.6"/><circle cx="960.7" cy="1156.6" r="9.6"/><circle cx="1030" cy="1120.9" r="9.6"/><circle cx="1055.7" cy="1125.1" r="9.6"/><circle cx="1075.7" cy="1113.7" r="9.6"/><circle cx="1100" cy="1109.4" r="9.6"/><circle cx="1110" cy="1106.6" r="9.6"/><circle cx="1090" cy="1125.9" r="9.6"/><circle cx="1084.3" cy="1143.7" r="9.6"/><circle cx="1101.4" cy="1138.7" r="9.6"/><circle cx="1099.3" cy="1152.3" r="9.6"/><circle cx="1052.9" cy="1150.1" r="9.6"/><circle cx="1020" cy="1160.9" r="9.6"/><circle cx="1027.9" cy="1160.1" r="9.6"/><circle cx="1077.1" cy="1162.3" r="9.6"/><circle cx="1150.7" cy="1125.1" r="9.6"/><circle cx="880.7" cy="1132.3" r="9.6"/><circle cx="877.9" cy="1138.7" r="9.6"/><circle cx="881.4" cy="1155.9" r="9.6"/><circle cx="868.6" cy="1168" r="9.6"/><circle cx="893.6" cy="1168" r="9.6"/><circle cx="912.9" cy="1170.9" r="9.6"/><circle cx="1134.3" cy="1152.3" r="9.6"/><circle cx="1128.6" cy="1158" r="9.6"/><circle cx="1144.3" cy="1160.9" r="9.6"/><circle cx="1197.9" cy="972.3" r="9.6"/><circle cx="1203.6" cy="987.3" r="9.6"/><circle cx="1177.9" cy="985.1" r="9.6"/><circle cx="1170" cy="997.3" r="9.6"/><circle cx="1195.7" cy="1000.9" r="9.6"/><circle cx="1255" cy="972.3" r="9.6"/><circle cx="1262.1" cy="975.1" r="9.6"/><circle cx="1307.1" cy="968.7" r="9.6"/><circle cx="1310" cy="1009.4" r="9.6"/><circle cx="1235.7" cy="1010.9" r="9.6"/><circle cx="1245.7" cy="1016.6" r="9.6"/><circle cx="1247.9" cy="1033" r="9.6"/><circle cx="1222.9" cy="1028" r="9.6"/><circle cx="1233.6" cy="1048" r="9.6"/><circle cx="1172.1" cy="1028.7" r="9.6"/><circle cx="1186.4" cy="1023" r="9.6"/><circle cx="1196.4" cy="1034.4" r="9.6"/><circle cx="1177.1" cy="1045.9" r="9.6"/><circle cx="1187.9" cy="1052.3" r="9.6"/><circle cx="1207.9" cy="1060.9" r="9.6"/><circle cx="1286.4" cy="1045.1" r="9.6"/><circle cx="1276.4" cy="1056.6" r="9.6"/><circle cx="1317.9" cy="1039.4" r="9.6"/><circle cx="1355" cy="1036.6" r="9.6"/><circle cx="1332.9" cy="1065.1" r="9.6"/><circle cx="1327.9" cy="1092.3" r="9.6"/><circle cx="1230" cy="1073.7" r="9.6"/><circle cx="1221.4" cy="1080.9" r="9.6"/><circle cx="1234.3" cy="1089.4" r="9.6"/><circle cx="1222.9" cy="1091.6" r="9.6"/><circle cx="1250" cy="1085.1" r="9.6"/><circle cx="1261.4" cy="1091.6" r="9.6"/><circle cx="1258.6" cy="1100.9" r="9.6"/><circle cx="1232.1" cy="1102.3" r="9.6"/><circle cx="1218.6" cy="1108.7" r="9.6"/><circle cx="1184.3" cy="1112.3" r="9.6"/><circle cx="1233.6" cy="1127.3" r="9.6"/><circle cx="1277.1" cy="1118" r="9.6"/><circle cx="1271.4" cy="1130.1" r="9.6"/><circle cx="1255" cy="1140.1" r="9.6"/><circle cx="1297.1" cy="1140.9" r="9.6"/><circle cx="1200" cy="1132.3" r="9.6"/><circle cx="1200.7" cy="1145.1" r="9.6"/><circle cx="1179.3" cy="1144.4" r="9.6"/><circle cx="1234.3" cy="1148.7" r="9.6"/><circle cx="1230" cy="1155.9" r="9.6"/><circle cx="1295" cy="1162.3" r="9.6"/><circle cx="1163.6" cy="1159.4" r="9.6"/><circle cx="1205.7" cy="1163.7" r="9.6"/><circle cx="881.4" cy="1171.4" r="9.6"/><circle cx="923.6" cy="1181.4" r="9.6"/><circle cx="907.9" cy="1189.3" r="9.6"/><circle cx="935" cy="1191.4" r="9.6"/><circle cx="950" cy="1197.9" r="9.6"/><circle cx="1000" cy="1190" r="9.6"/><circle cx="980" cy="1205.7" r="9.6"/><circle cx="1022.9" cy="1207.1" r="9.6"/><circle cx="1187.1" cy="1172.9" r="9.6"/><circle cx="1206.4" cy="1172.9" r="9.6"/><circle cx="1093.6" cy="1177.9" r="9.6"/><circle cx="1114.3" cy="1174.3" r="9.6"/><circle cx="1126.4" cy="1185" r="9.6"/><circle cx="1160.7" cy="1177.9" r="9.6"/><circle cx="1167.1" cy="1187.1" r="9.6"/><circle cx="1157.1" cy="1195" r="9.6"/><circle cx="1194.3" cy="1195.7" r="9.6"/><circle cx="1180" cy="1205.7" r="9.6"/><circle cx="1193.6" cy="1209.3" r="9.6"/><circle cx="1228.6" cy="1193.6" r="9.6"/><circle cx="1062.1" cy="1205.7" r="9.6"/><circle cx="1077.1" cy="1200.7" r="9.6"/><circle cx="1065" cy="1215.7" r="9.6"/><circle cx="1080.7" cy="1216.4" r="9.6"/><circle cx="1110" cy="1218.6" r="9.6"/><circle cx="1121.4" cy="1233.6" r="9.6"/><circle cx="1127.1" cy="1221.4" r="9.6"/><circle cx="1142.1" cy="1220.7" r="9.6"/><circle cx="1147.1" cy="1226.4" r="9.6"/><circle cx="1157.1" cy="1230.7" r="9.6"/><circle cx="1163.6" cy="1221.4" r="9.6"/><circle cx="1184.3" cy="1225.7" r="9.6"/><circle cx="1187.9" cy="1232.9" r="9.6"/><circle cx="1206.4" cy="1233.6" r="9.6"/><circle cx="637.1" cy="572.9" r="9.6"/><circle cx="1041.4" cy="581.4" r="9.6"/><circle cx="1563.4" cy="258.3" r="9.6"/><circle cx="668.6" cy="742.9" r="9.6"/><circle cx="684.3" cy="745.7" r="9.6"/><circle cx="694.3" cy="747.1" r="9.6"/><circle cx="683" cy="757" r="9.6"/><circle cx="672" cy="733" r="9.6"/><circle cx="1156" cy="803" r="9.6"/><circle cx="1162.9" cy="853.1" r="9.6"/><circle cx="1371.4" cy="844.3" r="9.6"/><circle cx="727.1" cy="1084.3" r="9.6"/><circle cx="740" cy="1094.3" r="9.6"/><circle cx="714.3" cy="1072.9" r="9.6"/><circle cx="975.7" cy="1118.6" r="9.6"/><circle cx="1059.3" cy="1120" r="9.6"/><circle cx="1128.6" cy="1165.7" r="9.6"/><circle cx="1146" cy="1166" r="9.6"/><circle cx="840" cy="431.4" r="9.6"/><circle cx="864" cy="406.3" r="9.6"/><circle cx="846.9" cy="425.7" r="9.6"/><circle cx="1198.6" cy="577.9" r="9.6"/><circle cx="351.1" cy="968.1" r="9.6"/><circle cx="1522" cy="544" r="9.6"/><circle cx="1543" cy="551" r="9.6"/><circle cx="1537" cy="561" r="9.6"/><circle cx="1463" cy="634" r="9.6"/><circle cx="692.9" cy="902.9" r="9.6"/><circle cx="600" cy="907" r="9.6"/><circle cx="1593" cy="1132" r="9.6"/></g>
<g stroke="#000" stroke-width="4.3" fill="none" stroke-linecap="butt">
<line x1="236.5" y1="142.7" x2="236.5" y2="1304.7"/>
<line x1="234.35" y1="1302.5" x2="1871.2" y2="1302.5"/>
<line x1="222" y1="250" x2="236.5" y2="250"/>
<line x1="222" y1="513" x2="236.5" y2="513"/>
<line x1="222" y1="776" x2="236.5" y2="776"/>
<line x1="222" y1="1039.5" x2="236.5" y2="1039.5"/>
<line x1="222" y1="1302.5" x2="236.5" y2="1302.5"/>
<line x1="538.8" y1="1302.5" x2="538.8" y2="1316.8"/>
<line x1="995.5" y1="1302.5" x2="995.5" y2="1316.8"/>
<line x1="1452.2" y1="1302.5" x2="1452.2" y2="1316.8"/>
</g>
<g font-size="50" text-anchor="end">
<text transform="translate(209.2,269) scale(1.025,1.0436)">7.5</text>
<text transform="translate(209.2,532) scale(1.025,1.0436)">5.0</text>
<text transform="translate(209.2,795) scale(1.025,1.0436)">2.5</text>
<text transform="translate(209.2,1058.5) scale(1.025,1.0436)">0.0</text>
<text transform="translate(209.2,1321.5) scale(1.025,1.0436)">-2.5</text>
</g>
<g font-size="50" text-anchor="middle">
<text transform="translate(538.8,1367) scale(1,1.0436)">0</text>
<text transform="translate(995.5,1367) scale(1,1.0436)">4</text>
<text transform="translate(1452.2,1367) scale(1,1.0436)">8</text>
</g>
<text transform="translate(936.5,1435) scale(1,1.0436)" font-size="58.3">UMAP_</text><path d="M1151.9,1434.8 L1157.2,1434.8 L1157.2,1392.8 L1153.1,1392.8 C1152.4,1396.4 1150.6,1400.4 1142.9,1401 L1142.9,1405.2 L1151.9,1405.2 Z" fill="#000"/>
<text transform="translate(94.5,723.5) rotate(-90) scale(1,1.0436)" font-size="58.3" text-anchor="middle">UMAP_2</text>
<rect x="1927" y="578" width="64" height="320" fill="#B63679"/>
<g stroke="#fff" stroke-width="2"><line x1="1927" y1="738" x2="1940" y2="738"/><line x1="1978" y1="738" x2="1991" y2="738"/></g>
<text transform="translate(2020,757) scale(1,1.0436)" font-size="50">0</text>
</svg>
</body></html>
